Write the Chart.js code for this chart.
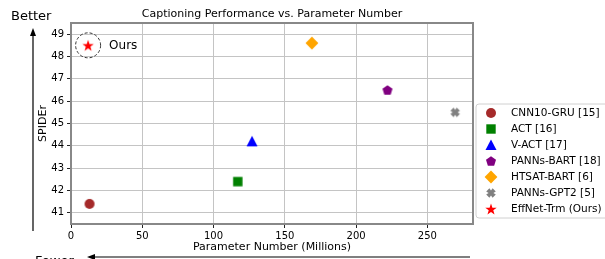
<!DOCTYPE html>
<html>
<head>
<meta charset="utf-8">
<script src="https://cdn.jsdelivr.net/npm/chart.js@4/dist/chart.umd.min.js"></script>
<style>
  html, body { margin: 0; padding: 0; background: #fff; }
  #wrap { width: 605px; height: 259px; }
</style>
</head>
<body>
<div id="wrap"><canvas id="chart" width="605" height="259"></canvas></div>
<script>
// data
var models = ['CNN10-GRU [15]', 'ACT [16]', 'V-ACT [17]', 'PANNs-BART [18]', 'HTSAT-BART [6]', 'PANNs-GPT2 [5]', 'EffNet-Trm (Ours)'];
var params = [13, 117, 127, 222, 169, 269.5, 12];
var spider = [41.4, 42.4, 44.2, 46.5, 48.6, 45.5, 48.5];
var colors = ['#a52a2a', '#008000', '#0000ff', '#800080', '#ffa500', '#808080', '#ff0000'];
var shapes = ['circle', 'square', 'triangle', 'pentagon', 'diamond', 'x', 'star'];
var xTicks = [0, 50, 100, 150, 200, 250];
var yTicks = [41, 42, 43, 44, 45, 46, 47, 48, 49];

var FONT = '"DejaVu Sans", sans-serif';

// small canvases used as point styles
function makeMarker(shape, color) {
    var s = 16, c = document.createElement('canvas');
    c.width = s; c.height = s;
    var g = c.getContext('2d'), m = s / 2;
    g.fillStyle = color;
    g.beginPath();
    var i, a, r;
    if (shape == 'circle') {
        g.arc(m, m, 5, 0, Math.PI * 2);
    } else if (shape == 'square') {
        g.rect(m - 4.7, m - 4.7, 9.4, 9.4);
    } else if (shape == 'triangle') {
        g.moveTo(m, m - 5.5); g.lineTo(m + 5.5, m + 5); g.lineTo(m - 5.5, m + 5);
    } else if (shape == 'pentagon') {
        for (i = 0; i < 5; i++) {
            a = -Math.PI / 2 + i * 2 * Math.PI / 5;
            g.lineTo(m + 5.3 * Math.cos(a), m + 0.5 + 5.3 * Math.sin(a));
        }
    } else if (shape == 'diamond') {
        g.moveTo(m, m - 6.4); g.lineTo(m + 6.4, m); g.lineTo(m, m + 6.4); g.lineTo(m - 6.4, m);
    } else if (shape == 'x') {
        var p = [[-1, -3], [0, -1.5], [1, -3], [3, -1], [1.5, 0], [3, 1], [1, 3], [0, 1.5], [-1, 3], [-3, 1], [-1.5, 0], [-3, -1]];
        for (i = 0; i < p.length; i++) g.lineTo(m + p[i][0] * 1.6, m + p[i][1] * 1.6);
    } else if (shape == 'star') {
        for (i = 0; i < 10; i++) {
            a = -Math.PI / 2 + i * Math.PI / 5;
            r = i % 2 ? 2.4 : 6;
            g.lineTo(m + r * Math.cos(a), m + 0.6 + r * Math.sin(a));
        }
    }
    g.closePath();
    g.fill();
    return c;
}

var markers = shapes.map(function (s, i) { return makeMarker(s, colors[i]); });

var datasets = models.map(function (name, i) {
    return {
        label: name,
        data: [{ x: params[i], y: spider[i] }],
        pointStyle: markers[i],
        backgroundColor: colors[i],
        borderColor: colors[i]
    };
});

var extras = {
    id: 'extras',
    afterDraw: function (chart) {
        var ctx = chart.ctx, a = chart.chartArea;
        var xs = chart.scales.x, ys = chart.scales.y;
        ctx.save();
        // frame
        ctx.strokeStyle = '#888';
        ctx.lineWidth = 2;
        ctx.strokeRect(a.left, a.top, a.right - a.left, a.bottom - a.top);

        // title
        ctx.fillStyle = '#000';
        ctx.font = '11px ' + FONT;
        ctx.textAlign = 'center';
        ctx.textBaseline = 'middle';
        ctx.fillText('Captioning Performance vs. Parameter Number', (a.left + a.right) / 2, 14);

        // dashed ring + label for ours
        var last = models.length - 1;
        var ox = xs.getPixelForValue(params[last]), oy = ys.getPixelForValue(spider[last]);
        ctx.setLineDash([3, 2]);
        ctx.strokeStyle = '#333';
        ctx.lineWidth = 1;
        ctx.beginPath();
        ctx.arc(ox, oy, 12.5, 0, Math.PI * 2);
        ctx.stroke();
        ctx.setLineDash([]);
        ctx.font = '12px ' + FONT;
        ctx.textAlign = 'left';
        ctx.fillText('Ours', ox + 21, oy + 1);

        // better / fewer arrows
        ctx.font = '13px ' + FONT;
        ctx.textBaseline = 'alphabetic';
        ctx.fillText('Better', 11, 20);
        ctx.fillText('Fewer', 35, 265);
        ctx.strokeStyle = '#000';
        ctx.lineWidth = 1.2;
        ctx.beginPath();
        ctx.moveTo(33, 231); ctx.lineTo(33, 34);
        ctx.moveTo(470, 257); ctx.lineTo(93, 257);
        ctx.stroke();
        ctx.fillStyle = '#000';
        ctx.beginPath();
        ctx.moveTo(33, 28); ctx.lineTo(36, 36); ctx.lineTo(30, 36); ctx.closePath();
        ctx.moveTo(87, 257); ctx.lineTo(95, 254); ctx.lineTo(95, 260); ctx.closePath();
        ctx.fill();

        // legend
        var lx = 476, ly = 104, lw = 135, lh = 114, rr = 3;
        ctx.fillStyle = 'rgba(255,255,255,0.85)';
        ctx.strokeStyle = '#d0d0d0';
        ctx.lineWidth = 1;
        ctx.beginPath();
        ctx.moveTo(lx + rr, ly);
        ctx.lineTo(lx + lw, ly);
        ctx.lineTo(lx + lw, ly + lh);
        ctx.lineTo(lx + rr, ly + lh);
        ctx.arcTo(lx, ly + lh, lx, ly + lh - rr, rr);
        ctx.lineTo(lx, ly + rr);
        ctx.arcTo(lx, ly, lx + rr, ly, rr);
        ctx.closePath();
        ctx.fill();
        ctx.stroke();
        ctx.font = '10.5px ' + FONT;
        ctx.fillStyle = '#000';
        ctx.textBaseline = 'middle';
        for (var i = 0; i < models.length; i++) {
            var cy = 113 + i * 16;
            ctx.drawImage(markers[i], 491 - 8, cy - 8);
            ctx.fillText(models[i], 511, cy + 0.5);
        }
        ctx.restore();
    }
};

new Chart(document.getElementById('chart'), {
    type: 'scatter',
    data: { datasets: datasets },
    options: {
        responsive: false,
        animation: false,
        events: [],
        layout: { padding: { left: 33, right: 132, top: 23, bottom: 1 } },
        plugins: {
            legend: { display: false },
            title: { display: false },
            tooltip: { enabled: false }
        },
        scales: {
            x: {
                type: 'linear',
                min: 0,
                max: 282,
                afterFit: function (s) { s.height = 34; },
                afterBuildTicks: function (s) { s.ticks = xTicks.map(function (v) { return { value: v }; }); },
                ticks: { color: '#000', font: { family: FONT, size: 10 }, padding: 2 },
                grid: { color: '#c4c4c4', tickColor: '#222', tickLength: 4 },
                border: { display: false },
                title: { display: true, text: 'Parameter Number (Millions)', color: '#000', font: { family: FONT, size: 11 }, padding: { top: 0, bottom: 4 } }
            },
            y: {
                type: 'linear',
                min: 40.5,
                max: 49.5,
                afterFit: function (s) { s.width = 38; },
                afterBuildTicks: function (s) { s.ticks = yTicks.map(function (v) { return { value: v }; }); },
                ticks: { color: '#000', font: { family: FONT, size: 10 }, padding: 3 },
                grid: { color: '#c4c4c4', tickColor: '#222', tickLength: 4 },
                border: { display: false },
                title: { display: true, text: 'SPIDEr', color: '#000', font: { family: FONT, size: 11 }, padding: { top: 4, bottom: 0 } }
            }
        }
    },
    plugins: [extras]
});
</script>
</body>
</html>
